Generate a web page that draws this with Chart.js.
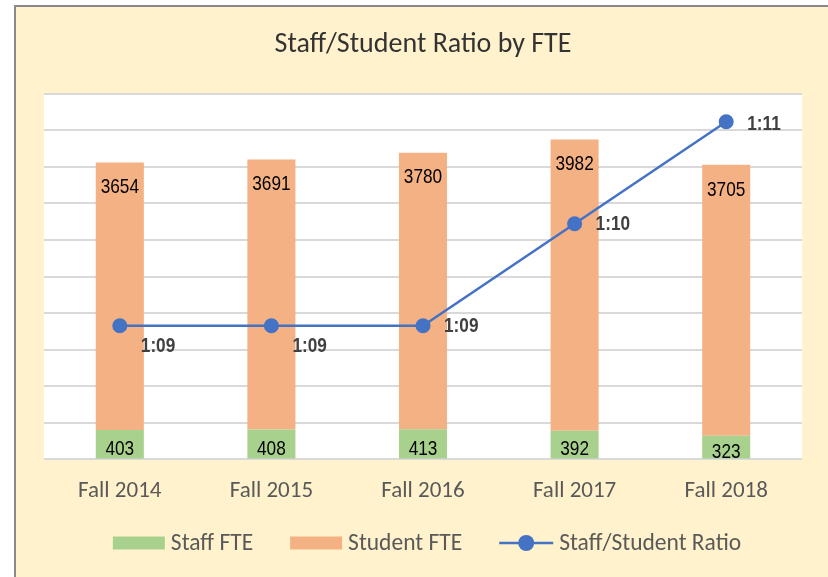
<!DOCTYPE html>
<html>
<head>
<meta charset="utf-8">
<script src="https://cdn.jsdelivr.net/npm/chart.js@4"></script>
<style>
    body { margin: 0; background: #ffffff; }
    #frame {
        position: absolute;
        left: 14px; top: 5px;
        width: 812px; height: 570px;
        border-left: 2px solid #898989;
        border-top: 2px solid #898989;
        background: #FFF2CC;
    }
    #box { position: relative; width: 812px; height: 570px; }
</style>
</head>
<body>
<div id="frame"><div id="box"><canvas id="ratioChart"></canvas></div></div>
<script>
const semestres = ["Fall 2014", "Fall 2015", "Fall 2016", "Fall 2017", "Fall 2018"];
const staffFTE = [403, 408, 413, 392, 323];
const studentFTE = [3654, 3691, 3780, 3982, 3705];
const ratio = [9, 9, 9, 10, 11];
const ratioLabels = ["1:09", "1:09", "1:09", "1:10", "1:11"];

// deslocamento vertical dos rótulos da razão (igual ao original)
const ratioLabelDy = [20, 20, 0, 0, 2];

const arial = "'Liberation Sans', Arial, sans-serif";
const calibri = "Carlito, Calibri, 'Open Sans', sans-serif";

const fundoBranco = {
    id: "fundoBranco",
    beforeDraw(chart) {
        const { ctx, chartArea: a } = chart;
        ctx.save();
        ctx.fillStyle = "#ffffff";
        ctx.fillRect(a.left, a.top, a.right - a.left, a.bottom - a.top);
        ctx.restore();
    }
};

// texto estreito (tipo Arial Narrow)
function textoEstreito(ctx, txt, x, y) {
    ctx.save();
    ctx.translate(x, y);
    ctx.scale(0.82, 1);
    ctx.fillText(txt, 0, 0);
    ctx.restore();
}

const rotulos = {
    id: "rotulos",
    afterDatasetsDraw(chart) {
        const ctx = chart.ctx;
        ctx.save();
        ctx.textBaseline = "middle";
        ctx.font = "21px " + arial;
        ctx.fillStyle = "#000000";
        ctx.textAlign = "center";
        chart.getDatasetMeta(0).data.forEach((el, i) => {
            textoEstreito(ctx, String(staffFTE[i]), el.x, (el.y + el.base) / 2 + 5);
        });
        chart.getDatasetMeta(1).data.forEach((el, i) => {
            textoEstreito(ctx, String(studentFTE[i]), el.x, el.y + 25);
        });
        ctx.font = "bold 21px " + arial;
        ctx.fillStyle = "#404040";
        ctx.textAlign = "left";
        chart.getDatasetMeta(2).data.forEach((el, i) => {
            textoEstreito(ctx, ratioLabels[i], el.x + 21, el.y + ratioLabelDy[i]);
        });
        ctx.restore();
    }
};

// legenda desenhada à mão para ficar igual ao Excel
const legenda = {
    id: "legenda",
    afterDraw(chart) {
        const ctx = chart.ctx;
        const a = chart.chartArea;
        const y = 536;
        const simbolo = [52, 52, 54];
        const gap = 6, espaco = 37;
        ctx.save();
        ctx.font = "23.5px " + calibri;
        ctx.textBaseline = "middle";
        ctx.textAlign = "left";
        const ds = chart.data.datasets;
        const larguras = ds.map((d, i) => simbolo[i] + gap + ctx.measureText(d.label).width);
        const total = larguras.reduce((s, w) => s + w, 0) + espaco * (ds.length - 1);
        let x = (a.left + a.right) / 2 + 4 - total / 2;
        ds.forEach((d, i) => {
            if (d.type === "line") {
                ctx.strokeStyle = d.borderColor;
                ctx.lineWidth = d.borderWidth;
                ctx.beginPath();
                ctx.moveTo(x, y);
                ctx.lineTo(x + simbolo[i], y);
                ctx.stroke();
                ctx.fillStyle = d.borderColor;
                ctx.beginPath();
                ctx.arc(x + simbolo[i] / 2, y, 8, 0, Math.PI * 2);
                ctx.fill();
            } else {
                ctx.fillStyle = d.backgroundColor;
                ctx.fillRect(x, y - 6.5, simbolo[i], 13);
            }
            ctx.fillStyle = "#595959";
            ctx.fillText(d.label, x + simbolo[i] + gap, y + 1);
            x += larguras[i] + espaco;
        });
        ctx.restore();
    }
};

const ctx = document.getElementById("ratioChart").getContext("2d");
new Chart(ctx, {
    type: "bar",
    data: {
        labels: semestres,
        datasets: [
            {
                label: "Staff FTE",
                data: staffFTE,
                backgroundColor: "#A9D18E",
                stack: "fte",
                order: 1
            },
            {
                label: "Student FTE",
                data: studentFTE,
                backgroundColor: "#F4B183",
                stack: "fte",
                order: 1
            },
            {
                type: "line",
                label: "Staff/Student Ratio",
                data: ratio,
                borderColor: "#4472C4",
                backgroundColor: "#4472C4",
                borderWidth: 2.5,
                pointRadius: 7.5,
                pointHoverRadius: 7.5,
                pointBackgroundColor: "#4472C4",
                pointBorderWidth: 0,
                yAxisID: "y2",
                order: 0
            }
        ]
    },
    options: {
        responsive: true,
        maintainAspectRatio: false,
        animation: false,
        datasets: {
            bar: { categoryPercentage: 1, barPercentage: 0.317 }
        },
        layout: { padding: { left: 28, right: 26, top: 0, bottom: 54 } },
        plugins: {
            title: {
                display: true,
                text: "Staff/Student Ratio by FTE",
                color: "#333333",
                font: { family: calibri, size: 28, weight: "normal" },
                padding: { top: 21, bottom: 32 }
            },
            legend: { display: false },
            tooltip: { enabled: false }
        },
        scales: {
            x: {
                stacked: true,
                grid: { display: false, drawTicks: false },
                border: { display: false },
                ticks: {
                    color: "#595959",
                    padding: 18,
                    font: { family: calibri, size: 23 }
                }
            },
            y: {
                stacked: true,
                min: 0,
                max: 5000,
                ticks: { display: false, stepSize: 500 },
                grid: { color: "#D9D9D9", lineWidth: 2, drawTicks: false },
                border: { display: false }
            },
            y2: {
                display: false,
                min: 7.69,
                max: 11.276
            }
        }
    },
    plugins: [fundoBranco, rotulos, legenda]
});
</script>
</body>
</html>
